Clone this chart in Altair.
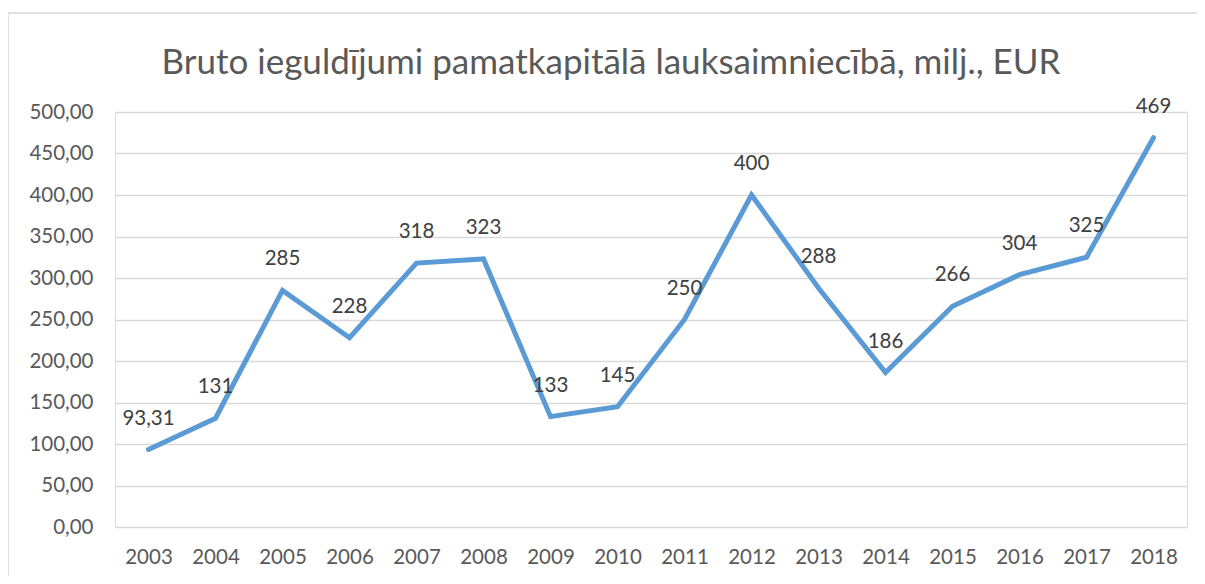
import altair as alt
import pandas as pd

years = [str(y) for y in range(2003, 2019)]
values = [93.31, 131, 285, 228, 318, 323, 133, 145, 250, 400, 288, 186, 266, 304, 325, 469]
labels = ["93,31", "131", "285", "228", "318", "323", "133", "145", "250", "400",
          "288", "186", "266", "304", "325", "469"]
y_ticks = [0, 50, 100, 150, 200, 250, 300, 350, 400, 450, 500]
title_text = "Bruto ieguldījumi pamatkapitālā lauksaimniecībā, milj., EUR"

df = pd.DataFrame({"year": years, "value": values, "label": labels})
tdf = pd.DataFrame({"t": [title_text]})

FONT = "Lato"
FS = 20.5

x_enc = alt.X("year:N", sort=years, title=None,
              scale=alt.Scale(paddingInner=0, paddingOuter=0),
              axis=alt.Axis(labelAngle=0, ticks=False, domain=False, grid=False,
                            labelFontSize=FS, labelColor="#595959", labelFont=FONT,
                            labelPadding=20))
y_enc = alt.Y("value:Q", title=None,
              scale=alt.Scale(domain=[0, 500], nice=False),
              axis=alt.Axis(values=y_ticks, ticks=False, domain=False,
                            labelExpr="replace(format(datum.value, '.2f'), '.', ',')",
                            labelFontSize=FS, labelColor="#595959", labelFont=FONT,
                            labelPadding=22, gridColor="#d9d9d9", gridWidth=1.3))

border = alt.Chart(tdf).mark_rect(fill=None, stroke="#d9d9d9", strokeWidth=1.5, clip=False).encode(
    x=alt.value(-107), x2=alt.value(1088), y=alt.value(-99), y2=alt.value(480)
)

title = alt.Chart(tdf).mark_text(fontSize=35, font=FONT, color="#595959",
                                 align="center", baseline="middle").encode(
    text="t:N", x=alt.value(496), y=alt.value(-49)
)

line = alt.Chart(df).mark_line(color="#5B9BD5", strokeWidth=5, strokeCap="round",
                               strokeJoin="miter").encode(x=x_enc, y=y_enc)

text = alt.Chart(df).mark_text(dy=-31, fontSize=FS, color="#404040", font=FONT).encode(
    x=alt.X("year:N", sort=years), y="value:Q", text="label:N"
)

chart = alt.layer(border, title, line, text).properties(
    width=1072, height=415,
    autosize=alt.AutoSizeParams(type="none"),
    padding={"left": 107, "top": 104, "right": 10, "bottom": 49},
).configure_view(stroke=None).configure(background="white")

chart.save("out.html", embed_options={"renderer": "svg", "actions": False})
